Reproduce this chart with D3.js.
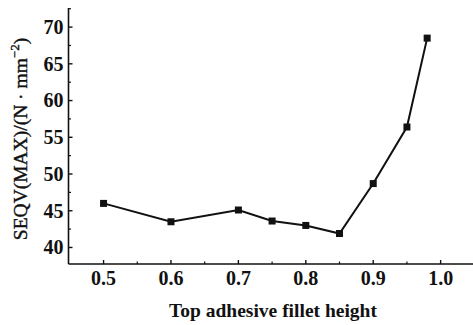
<!DOCTYPE html>
<html><head><meta charset="utf-8">
<script src="https://cdn.jsdelivr.net/npm/d3@7"></script>
<style>body{margin:0;background:#fff}svg{display:block}text{fill:#111}</style>
</head><body>
<svg id="c" width="473" height="325"></svg>
<script>
const heights = [0.5, 0.6, 0.7, 0.75, 0.8, 0.85, 0.9, 0.95, 0.98];
const seqv = [46.0, 43.5, 45.1, 43.6, 43.0, 41.9, 48.7, 56.4, 68.5];
const xTicks = [0.5, 0.6, 0.7, 0.8, 0.9, 1.0];
const xMinor = [0.55, 0.65, 0.75, 0.85, 0.95];
const yTicks = [40, 45, 50, 55, 60, 65, 70];
const yMinor = [42.5, 47.5, 52.5, 57.5, 62.5, 67.5, 72.5];
const xTitle = "Top adhesive fillet height";

const svg = d3.select("#c");
const x = d3.scaleLinear().domain([0.448, 1.048]).range([68.5, 473]);
const y = d3.scaleLinear().domain([37.75, 72.6]).range([264, 8]);
const font = "'Liberation Serif','Times New Roman',serif";

const gx = svg.append("g").attr("transform", "translate(0,264)");
gx.append("line").attr("x1", 68.5).attr("x2", 473).attr("stroke", "#111").attr("stroke-width", 1.6);
gx.selectAll(".mj").data(xTicks).join("line").attr("x1", d => x(d)).attr("x2", d => x(d)).attr("y1", 0).attr("y2", -4).attr("stroke", "#111").attr("stroke-width", 1.4);
gx.selectAll(".mn").data(xMinor).join("line").attr("class","mn").attr("x1", d => x(d)).attr("x2", d => x(d)).attr("y1", 0).attr("y2", -2.5).attr("stroke", "#111").attr("stroke-width", 1.2);
gx.selectAll("text").data(xTicks).join("text").attr("x", d => x(d)).attr("y", 21).attr("text-anchor", "middle")
  .style("font-family", font).style("font-size", "20px").style("font-weight", "bold").text(d => d3.format(".1f")(d));

const gy = svg.append("g").attr("transform", "translate(68.5,0)");
gy.append("line").attr("y1", 8).attr("y2", 264).attr("stroke", "#111").attr("stroke-width", 1.6);
gy.selectAll(".mj").data(yTicks).join("line").attr("class","mj").attr("y1", d => y(d)).attr("y2", d => y(d)).attr("x1", 0).attr("x2", 4).attr("stroke", "#111").attr("stroke-width", 1.4);
gy.selectAll(".mn").data(yMinor).join("line").attr("class","mn").attr("y1", d => y(d)).attr("y2", d => y(d)).attr("x1", 0).attr("x2", 2.5).attr("stroke", "#111").attr("stroke-width", 1.2);
gy.selectAll("text").data(yTicks).join("text").attr("x", -5).attr("y", d => y(d)).attr("dy", "0.34em").attr("text-anchor", "end")
  .style("font-family", font).style("font-size", "20px").style("font-weight", "bold").text(d => d);

svg.append("text").attr("x", 273).attr("y", 317).attr("text-anchor", "middle")
  .style("font-family", font).style("font-size", "19.5px").style("font-weight", "bold").text(xTitle);

const yt = svg.append("text").attr("transform", "translate(27,139) rotate(-90)").attr("text-anchor", "middle")
  .style("font-family", font).style("font-size", "19.5px").style("stroke", "#111").style("stroke-width", 0.4);
yt.append("tspan").text("SEQV(MAX)/(N · mm");
yt.append("tspan").attr("dy", -8).style("font-size", "13px").text("−2");
yt.append("tspan").attr("dy", 8).text(")");

const pts = heights.map((h, i) => [h, seqv[i]]);
svg.append("path").datum(pts).attr("fill", "none").attr("stroke", "#111").attr("stroke-width", 2)
  .attr("d", d3.line().x(d => x(d[0])).y(d => y(d[1])));
svg.selectAll(".pt").data(pts).join("rect").attr("x", d => x(d[0]) - 3.5).attr("y", d => y(d[1]) - 3.5)
  .attr("width", 7).attr("height", 7).attr("fill", "#111");
</script>
</body></html>
